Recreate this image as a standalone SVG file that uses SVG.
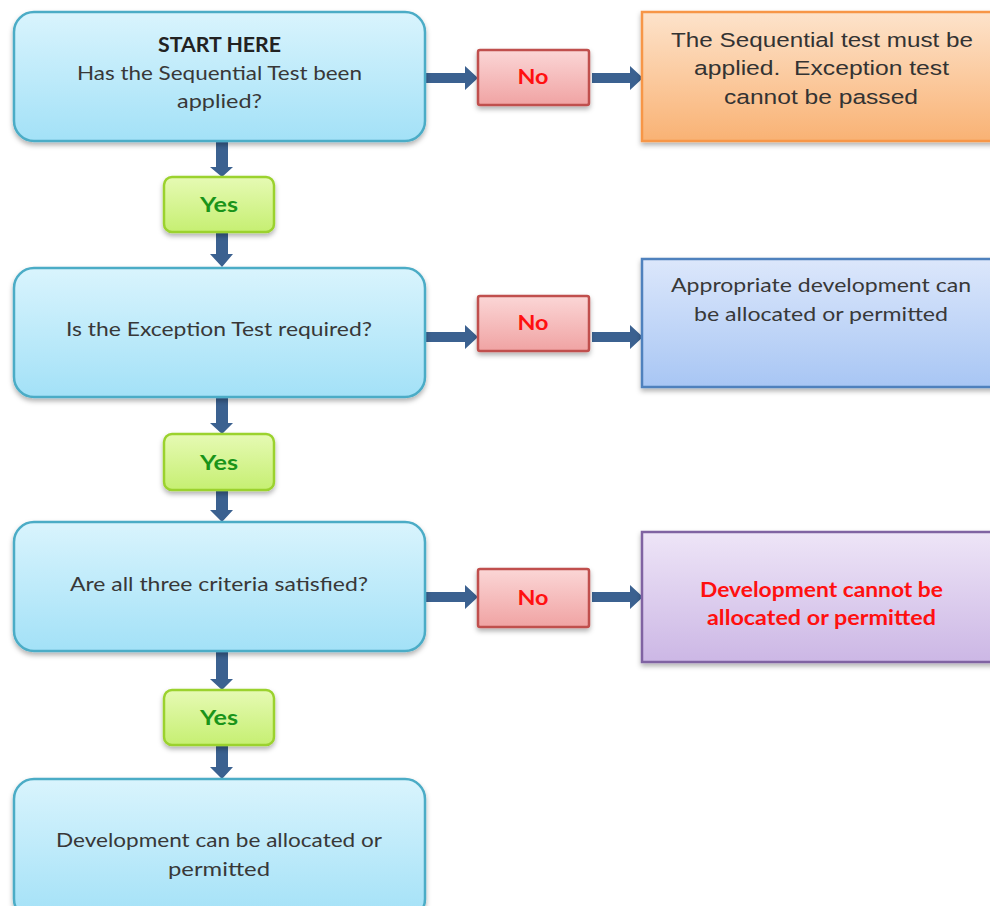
<svg xmlns="http://www.w3.org/2000/svg" width="990" height="906" viewBox="0 0 990 906">
<defs>
<linearGradient id="gBlue" x1="0" y1="0" x2="0" y2="1"><stop offset="0" stop-color="#d9f4fd"/><stop offset="1" stop-color="#a3e1f7"/></linearGradient>
<linearGradient id="gYes" x1="0" y1="0" x2="0" y2="1"><stop offset="0" stop-color="#e6fab4"/><stop offset="1" stop-color="#c6ef72"/></linearGradient>
<linearGradient id="gNo" x1="0" y1="0" x2="0" y2="1"><stop offset="0" stop-color="#fbd6d6"/><stop offset="1" stop-color="#f0a3a3"/></linearGradient>
<linearGradient id="gOrange" x1="0" y1="0" x2="0" y2="1"><stop offset="0" stop-color="#fde3cb"/><stop offset="1" stop-color="#f9b274"/></linearGradient>
<linearGradient id="gRBlue" x1="0" y1="0" x2="0" y2="1"><stop offset="0" stop-color="#dce7fb"/><stop offset="1" stop-color="#a8c6f4"/></linearGradient>
<linearGradient id="gPurple" x1="0" y1="0" x2="0" y2="1"><stop offset="0" stop-color="#eee5f7"/><stop offset="1" stop-color="#ccb7e5"/></linearGradient>
<filter id="sh" x="-10%" y="-10%" width="120%" height="130%"><feDropShadow dx="0" dy="3" stdDeviation="2.5" flood-color="#000" flood-opacity="0.3"/></filter>
</defs>
<style>
.main{fill:url(#gBlue);stroke:#4bacc6;stroke-width:2.5;filter:url(#sh)}
.yes{fill:url(#gYes);stroke:#9bd22e;stroke-width:2.5;filter:url(#sh)}
.no{fill:url(#gNo);stroke:#c0504d;stroke-width:2.5;filter:url(#sh)}
.t{font-family:Lato,"Open Sans",sans-serif;font-size:20px;fill:#383838;text-anchor:middle}
.b{font-weight:bold;fill:#222}
.a{font-family:"Liberation Sans",Arial,sans-serif;font-size:20.5px;fill:#333;text-anchor:middle}
.yt{font-family:Lato,sans-serif;font-size:20px;font-weight:bold;fill:#1a941a;text-anchor:middle}
.nt{font-family:Lato,sans-serif;font-size:20px;font-weight:bold;fill:#ff1010;text-anchor:middle}
.ar{fill:#3b6190}
</style>
<rect width="990" height="906" fill="#ffffff"/>
<g id="connectors">
<path class="ar" d="M216,141 H228 V167 H233 L222,177 L210,167 H216 Z"/>
<path class="ar" d="M216,232 H228 V254 H233 L222,267 L210,254 H216 Z"/>
<path class="ar" d="M216,397 H228 V423 H233 L222,434 L210,423 H216 Z"/>
<path class="ar" d="M216,490 H228 V510 H233 L222,522 L210,510 H216 Z"/>
<path class="ar" d="M216,651 H228 V679 H233 L222,690 L210,679 H216 Z"/>
<path class="ar" d="M216,745 H228 V767 H233 L222,779 L210,767 H216 Z"/>
<path class="ar" d="M420,73 V83 H465 V90 L478,78 L465,66 V73 Z"/>
<path class="ar" d="M592,73 V83 H630 V90 L643,78 L630,66 V73 Z"/>
<path class="ar" d="M420,332 V342 H465 V349 L478,337 L465,325 V332 Z"/>
<path class="ar" d="M592,332 V342 H630 V349 L643,337 L630,325 V332 Z"/>
<path class="ar" d="M420,592 V602 H465 V609 L478,597 L465,585 V592 Z"/>
<path class="ar" d="M592,592 V602 H630 V609 L643,597 L630,585 V592 Z"/>
</g>
<g id="start">
<rect class="main" x="14" y="12" width="411" height="129" rx="20"/>
<text class="t b" x="219.5" y="52" textLength="123" lengthAdjust="spacingAndGlyphs">START HERE</text>
<text class="t" x="219.5" y="80" textLength="285" lengthAdjust="spacingAndGlyphs">Has the Sequential Test been</text>
<text class="t" x="219.5" y="108" textLength="85" lengthAdjust="spacingAndGlyphs">applied?</text>
</g>
<g id="yes1"><rect class="yes" x="164" y="177" width="110" height="55" rx="8"/><text class="yt" x="219" y="212" textLength="38" lengthAdjust="spacingAndGlyphs">Yes</text></g>
<g id="no1"><rect class="no" x="478" y="50" width="111" height="55" rx="2"/><text class="nt" x="533" y="84" textLength="31" lengthAdjust="spacingAndGlyphs">No</text></g>
<g id="fail-seq">
<rect x="642" y="12" width="360" height="129" fill="url(#gOrange)" stroke="#f79646" stroke-width="2.5" filter="url(#sh)"/>
<text class="a" x="822" y="47" textLength="302" lengthAdjust="spacingAndGlyphs">The Sequential test must be</text>
<text class="a" x="821.5" y="75" textLength="255" lengthAdjust="spacingAndGlyphs" xml:space="preserve">applied.  Exception test</text>
<text class="a" x="821" y="104" textLength="194" lengthAdjust="spacingAndGlyphs">cannot be passed</text>
</g>
<g id="exception">
<rect class="main" x="14" y="268" width="411" height="129" rx="20"/>
<text class="t" x="219" y="336" textLength="306" lengthAdjust="spacingAndGlyphs">Is the Exception Test required?</text>
</g>
<g id="yes2"><rect class="yes" x="164" y="434" width="110" height="56" rx="8"/><text class="yt" x="219" y="470" textLength="38" lengthAdjust="spacingAndGlyphs">Yes</text></g>
<g id="no2"><rect class="no" x="478" y="296" width="111" height="55" rx="2"/><text class="nt" x="533" y="330" textLength="31" lengthAdjust="spacingAndGlyphs">No</text></g>
<g id="appropriate">
<rect x="642" y="259" width="360" height="128" fill="url(#gRBlue)" stroke="#4f81bd" stroke-width="2.5" filter="url(#sh)"/>
<text class="t" x="821" y="292" textLength="300" lengthAdjust="spacingAndGlyphs">Appropriate development can</text>
<text class="t" x="821" y="321" textLength="254" lengthAdjust="spacingAndGlyphs">be allocated or permitted</text>
</g>
<g id="criteria">
<rect class="main" x="14" y="522" width="411" height="129" rx="20"/>
<text class="t" x="219" y="591" textLength="298" lengthAdjust="spacingAndGlyphs">Are all three criteria satisfied?</text>
</g>
<g id="yes3"><rect class="yes" x="164" y="690" width="110" height="55" rx="8"/><text class="yt" x="219" y="725" textLength="38" lengthAdjust="spacingAndGlyphs">Yes</text></g>
<g id="no3"><rect class="no" x="478" y="569" width="111" height="58" rx="2"/><text class="nt" x="533" y="605" textLength="31" lengthAdjust="spacingAndGlyphs">No</text></g>
<g id="cannot">
<rect x="642" y="532" width="360" height="130" fill="url(#gPurple)" stroke="#8064a2" stroke-width="2.5" filter="url(#sh)"/>
<text class="nt" x="821.5" y="597" textLength="243" lengthAdjust="spacingAndGlyphs">Development cannot be</text>
<text class="nt" x="821.5" y="625" textLength="229" lengthAdjust="spacingAndGlyphs">allocated or permitted</text>
</g>
<g id="permitted">
<rect class="main" x="14" y="779" width="411" height="140" rx="20"/>
<text class="t" x="219" y="847" textLength="326" lengthAdjust="spacingAndGlyphs">Development can be allocated or</text>
<text class="t" x="219" y="876" textLength="102" lengthAdjust="spacingAndGlyphs">permitted</text>
</g>
</svg>
